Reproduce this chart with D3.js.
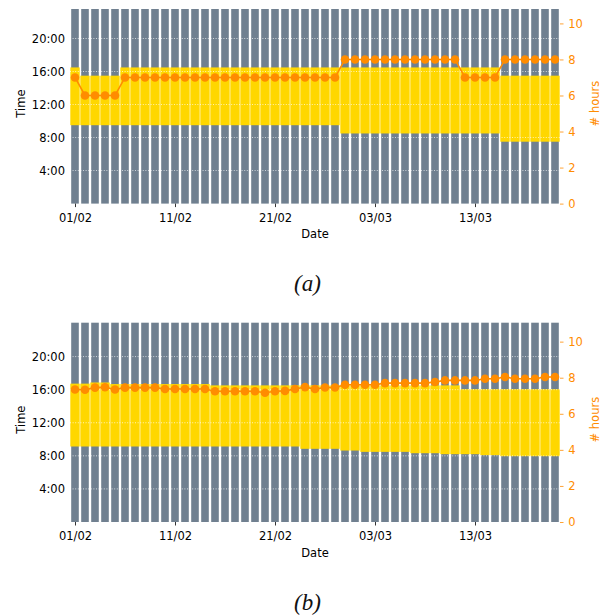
<!DOCTYPE html>
<html>
<head>
<meta charset="utf-8">
<script src="https://cdn.jsdelivr.net/npm/d3@7"></script>
<style>
  html, body { margin: 0; padding: 0; background: #fff; }
  svg { display: block; }
  text { font-family: "DejaVu Sans", sans-serif; }
</style>
</head>
<body>
<svg id="chart" width="609" height="616"></svg>
<script>
// ---------- data ----------
const dates = [
  "2021-02-01","2021-02-02","2021-02-03","2021-02-04","2021-02-05","2021-02-06","2021-02-07",
  "2021-02-08","2021-02-09","2021-02-10","2021-02-11","2021-02-12","2021-02-13","2021-02-14",
  "2021-02-15","2021-02-16","2021-02-17","2021-02-18","2021-02-19","2021-02-20","2021-02-21",
  "2021-02-22","2021-02-23","2021-02-24","2021-02-25","2021-02-26","2021-02-27","2021-02-28",
  "2021-03-01","2021-03-02","2021-03-03","2021-03-04","2021-03-05","2021-03-06","2021-03-07",
  "2021-03-08","2021-03-09","2021-03-10","2021-03-11","2021-03-12","2021-03-13","2021-03-14",
  "2021-03-15","2021-03-16","2021-03-17","2021-03-18","2021-03-19","2021-03-20","2021-03-21"
];
const xTickDates = ["2021-02-01","2021-02-11","2021-02-21","2021-03-03","2021-03-13"];
const timeTicks = [4, 8, 12, 16, 20];
const hourTicks = [0, 2, 4, 6, 8, 10];

// panel (a): start / end of yellow window (hours of day) and # hours
const startA = [9.5,9.5,9.5,9.5,9.5,9.5,9.5, 9.5,9.5,9.5,9.5,9.5,9.5,9.5, 9.5,9.5,9.5,9.5,9.5,9.5,9.5,
  9.5,9.5,9.5,9.5,9.5,9.5, 8.5,8.5,8.5,8.5,8.5,8.5,8.5,8.5,8.5,8.5,8.5,8.5,8.5,8.5,8.5,8.5,
  7.5,7.5,7.5,7.5,7.5,7.5];
const endA = [16.5,15.5,15.5,15.5,15.5,16.5,16.5, 16.5,16.5,16.5,16.5,16.5,16.5,16.5, 16.5,16.5,16.5,16.5,16.5,16.5,16.5,
  16.5,16.5,16.5,16.5,16.5,16.5, 16.5,16.5,16.5,16.5,16.5,16.5,16.5,16.5,16.5,16.5,16.5,16.5,16.5,16.5,16.5,16.5,
  15.5,15.5,15.5,15.5,15.5,15.5];
const hoursA = [7,6,6,6,6,7,7, 7,7,7,7,7,7,7, 7,7,7,7,7,7,7, 7,7,7,7,7,7,
  8,8,8,8,8,8,8,8,8,8,8,8, 7,7,7,7, 8,8,8,8,8,8];

// panel (b)
const startB = [9.13,9.13,9.13,9.13,9.13,9.13,9.13, 9.13,9.13,9.13,9.13,9.13,9.13,9.13, 9.13,9.13,9.13,9.13,9.13,9.13,9.13,
  9.13,9.13, 8.85,8.85,8.85,8.85, 8.64,8.64, 8.48,8.48,8.48,8.48,8.48, 8.32,8.32,8.32,
  8.2,8.2,8.2,8.2, 8.08,8.08, 7.96,7.96,7.96,7.96,7.96,7.96];
const endB = [16.73,16.73,16.87,16.87,16.68,16.68,16.68, 16.68,16.68,16.68,16.68,16.68,16.68,16.68,
  16.52,16.52,16.52,16.52,16.52,16.52,16.52, 16.52,16.52,16.52,16.52,16.52,16.52,16.52,
  16.52,16.52,16.52,16.52,16.52,16.52,16.52, 16.52,16.52,16.52,16.52,
  16.06,16.06,16.06,16.06,16.06,16.06,16.06,16.06,16.06,16.06];
const hoursB = [7.35,7.33,7.45,7.47,7.35,7.45,7.45, 7.45,7.45,7.37,7.37,7.37,7.37,7.37,
  7.25,7.25,7.25,7.25,7.25,7.17,7.25, 7.27,7.37,7.48,7.37,7.46,7.46,7.61,
  7.61,7.61,7.61,7.70,7.70,7.70,7.70, 7.70,7.76,7.85,7.85,7.85,7.85,7.94,
  7.94,8.04,7.94,7.94,7.94,8.04,8.04];

const panelNames = ["(a)", "(b)"];

// ---------- drawing ----------
const parse = d3.timeParse("%Y-%m-%d");
const days = dates.map(parse);
const fmt = d3.timeFormat("%d/%m");

const GREY = "#708090", GOLD = "#FFD700", ORANGE = "#FF8C00";
const svg = d3.select("#chart");

const x = d3.scaleTime()
  .domain([d3.timeHour.offset(days[0], -12), d3.timeHour.offset(days[days.length - 1], 12)])
  .range([70, 560]);
const dayW = x(days[1]) - x(days[0]);

const panels = [
  { start: startA, end: endA, hours: hoursA, top: 9, bottom: 203.6, tMax: 23.58, hMax: 10.8, cap: 291 },
  { start: startB, end: endB, hours: hoursB, top: 322.7, bottom: 522, tMax: 24.1, hMax: 11.05, cap: 609.5 }
];

panels.forEach((p, pi) => {
  const g = svg.append("g");
  const yT = d3.scaleLinear().domain([0, p.tMax]).range([p.bottom, p.top]);
  const yH = d3.scaleLinear().domain([0, p.hMax]).range([p.bottom, p.top]);

  // grey full-day bars
  const greyW = dayW * 0.76;
  g.append("g").selectAll("rect").data(days).join("rect")
    .attr("x", d => x(d) - greyW / 2)
    .attr("width", greyW)
    .attr("y", yT(p.tMax))
    .attr("height", yT(0) - yT(p.tMax))
    .attr("fill", GREY);

  // yellow windows
  const yelW = dayW * 0.94;
  g.append("g").selectAll("rect").data(days).join("rect")
    .attr("x", d => x(d) - yelW / 2)
    .attr("width", yelW)
    .attr("y", (d, i) => yT(p.end[i]))
    .attr("height", (d, i) => yT(p.start[i]) - yT(p.end[i]))
    .attr("fill", GOLD);

  // grid
  g.append("g").selectAll("line").data(timeTicks).join("line")
    .attr("x1", 70).attr("x2", 560)
    .attr("y1", d => yT(d)).attr("y2", d => yT(d))
    .attr("stroke", "#fff").attr("stroke-width", 0.8)
    .attr("stroke-dasharray", "1,1.6").attr("opacity", 0.9);

  // left axis
  const ax = g.append("g").attr("transform", "translate(70,0)")
    .call(d3.axisLeft(yT).tickValues(timeTicks).tickFormat(d => d + ":00").tickSize(0).tickPadding(5));
  ax.select(".domain").remove();
  ax.selectAll("text").attr("font-size", "11.5px").attr("fill", "#000").style("font-family", "DejaVu Sans");

  // bottom axis
  const bx = g.append("g").attr("transform", `translate(0,${p.bottom})`)
    .call(d3.axisBottom(x).tickValues(xTickDates.map(parse)).tickFormat(fmt).tickSize(3.5).tickPadding(6.3));
  bx.select(".domain").remove();
  bx.selectAll("line").attr("stroke", "#000").attr("stroke-width", 0.8);
  bx.selectAll("text").attr("font-size", "11.5px").attr("fill", "#000").style("font-family", "DejaVu Sans");

  // right axis
  const rx = g.append("g").attr("transform", "translate(560,0)")
    .call(d3.axisRight(yH).tickValues(hourTicks).tickSize(3.5).tickPadding(4.8));
  rx.select(".domain").remove();
  rx.selectAll("line").attr("stroke", ORANGE).attr("stroke-width", 0.8);
  rx.selectAll("text").attr("font-size", "11.5px").attr("fill", ORANGE).style("font-family", "DejaVu Sans");

  // line + markers
  const line = d3.line().x(d => x(d[0])).y(d => yH(d[1]));
  const pts = days.map((d, i) => [d, p.hours[i]]);
  g.append("path").datum(pts).attr("d", line)
    .attr("fill", "none").attr("stroke", ORANGE).attr("stroke-width", 1.6);
  g.append("g").selectAll("circle").data(pts).join("circle")
    .attr("cx", d => x(d[0])).attr("cy", d => yH(d[1])).attr("r", 4.3)
    .attr("fill", ORANGE);

  // labels
  const midY = (p.top + p.bottom) / 2 - 2.7;
  g.append("text").attr("transform", `translate(25,${midY}) rotate(-90)`)
    .attr("text-anchor", "middle").attr("font-size", "11.5px").attr("fill", "#000").text("Time");
  g.append("text").attr("transform", `translate(598.5,${midY}) rotate(-90)`)
    .attr("text-anchor", "middle").attr("font-size", "11.5px").attr("fill", ORANGE).text("# hours");
  g.append("text").attr("x", 315).attr("y", p.bottom + 34.5)
    .attr("text-anchor", "middle").attr("font-size", "11.5px").attr("fill", "#000").text("Date");
  g.append("text").attr("x", 307.5).attr("y", p.cap)
    .attr("text-anchor", "middle").attr("font-size", "23px")
    .style("font-family", "'Liberation Serif', serif").style("font-style", "italic")
    .attr("fill", "#111").text(panelNames[pi]);
});
</script>
</body>
</html>
